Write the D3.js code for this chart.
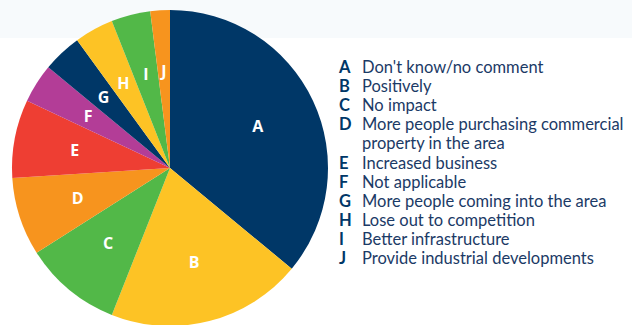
<!DOCTYPE html>
<html>
<head>
<meta charset="utf-8">
<script src="https://cdn.jsdelivr.net/npm/d3@7"></script>
<style>
  body { margin: 0; background: #fff; }
  svg { display: block; }
</style>
</head>
<body>
<div class="chart-container"></div>
<script>
/* Data
   ========================================================================== */
var letters = ["A", "B", "C", "D", "E", "F", "G", "H", "I", "J"];
var shares = [36, 20, 10, 8, 8, 4, 4, 4, 4, 2];
var colors = ["#003767", "#fdc325", "#52b848", "#f7941e", "#ee3e33",
              "#b33d97", "#003767", "#fdc325", "#52b848", "#f7941e"];
var labels = [
    ["Don't know/no comment"],
    ["Positively"],
    ["No impact"],
    ["More people purchasing commercial", "property in the area"],
    ["Increased business"],
    ["Not applicable"],
    ["More people coming into the area"],
    ["Lose out to competition"],
    ["Better infrastructure"],
    ["Provide industrial developments"]
];

var width = 632, height = 325;
var cx = 170, cy = 168, radius = 158;

var svg = d3.select('.chart-container').append("svg")
    .attr("width", width)
    .attr("height", height);

// faint band along the top
svg.append("rect")
    .attr("width", width)
    .attr("height", 38)
    .attr("fill", "#f7fafc");

/* Pie
   ========================================================================== */
var data = letters.map(function(l, i) {
    return { letter: l, value: shares[i], color: colors[i], text: labels[i] };
});

var pie = d3.pie()
    .sort(null)
    .value(function(d) { return d.value; });

var arc = d3.arc().innerRadius(0).outerRadius(radius);
var labelArc = d3.arc().innerRadius(97).outerRadius(97);

var g = svg.append("g")
    .attr("transform", "translate(" + cx + "," + cy + ")");

var arcs = pie(data);

g.selectAll(".slice")
    .data(arcs)
    .enter().append("path")
    .attr("class", "slice")
    .attr("d", arc)
    .attr("fill", function(d) { return d.data.color; });

g.selectAll(".slice-label")
    .data(arcs)
    .enter().append("text")
    .attr("class", "slice-label")
    .attr("transform", function(d) { return "translate(" + labelArc.centroid(d) + ")"; })
    .attr("text-anchor", "middle")
    .attr("dy", "0.36em")
    .attr("fill", "#fff")
    .style("font-family", "'Open Sans', sans-serif")
    .style("font-weight", 700)
    .style("font-size", "16px")
    .text(function(d) { return d.data.letter; });

/* Legend
   ========================================================================== */
var lineH = 19.1;
var legend = svg.append("g")
    .attr("transform", "translate(339,73)")
    .style("font-family", "Lato, sans-serif")
    .style("font-size", "16.5px")
    .attr("fill", "#1b3a66");

var row = 0;
data.forEach(function(d) {
    legend.append("text")
        .attr("x", 0)
        .attr("y", row * lineH)
        .style("font-weight", 700)
        .attr("fill", "#003767")
        .text(d.letter);
    d.text.forEach(function(t) {
        legend.append("text")
            .attr("x", 23)
            .attr("y", row * lineH)
            .text(t);
        row++;
    });
});
</script>
</body>
</html>
